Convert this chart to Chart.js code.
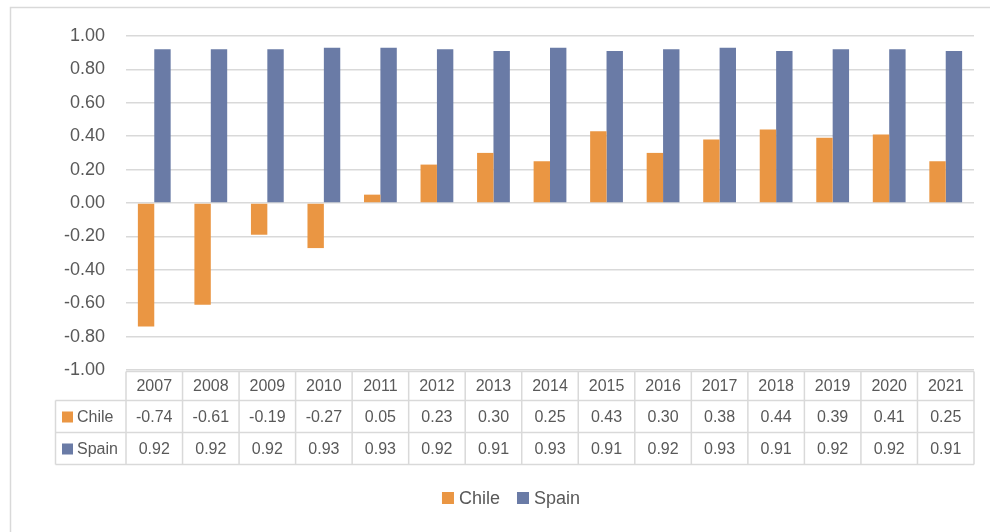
<!DOCTYPE html>
<html><head><meta charset="utf-8">
<script src="https://cdn.jsdelivr.net/npm/chart.js@4.4.1/dist/chart.umd.min.js"></script>
<style>html,body{margin:0;padding:0;background:#fff}#wrap{width:990px;height:532px;position:relative}</style>
</head><body><div id="wrap"><canvas id="c" width="990" height="532"></canvas></div>
<script>
const categories = ['2007','2008','2009','2010','2011','2012','2013','2014','2015','2016','2017','2018','2019','2020','2021'];
const chileValues = [-0.74,-0.61,-0.19,-0.27,0.05,0.23,0.30,0.25,0.43,0.30,0.38,0.44,0.39,0.41,0.25];
const spainValues = [0.92,0.92,0.92,0.93,0.93,0.92,0.91,0.93,0.91,0.92,0.93,0.91,0.92,0.92,0.91];
const seriesNames = ['Chile','Spain'];
const seriesColors = ['#EA9643','#6A7BA6'];

const FONT = "'Liberation Sans', Arial, sans-serif";
const TEXT = '#595959';
const LINE = '#d9d9d9';

const tablePlugin = {
  id: 'dataTable',
  afterDraw(chart) {
    const ctx = chart.ctx, a = chart.chartArea, n = categories.length;
    const w = (a.right - a.left) / n;
    ctx.save();
    // outer frame
    ctx.strokeStyle = LINE; ctx.lineWidth = 1.5;
    ctx.beginPath(); ctx.moveTo(10.5, 532); ctx.lineTo(10.5, 7.5); ctx.lineTo(990, 7.5); ctx.stroke();
    // table grid
    const top = a.bottom + 1.5, r1 = top + 29, r2 = r1 + 32, r3 = r2 + 32, labL = 55.5;
    ctx.lineWidth = 1.5; ctx.strokeStyle = LINE;
    ctx.beginPath();
    ctx.moveTo(a.left, top); ctx.lineTo(a.right, top);
    [r1, r2, r3].forEach(y => { ctx.moveTo(labL, y); ctx.lineTo(a.right, y); });
    ctx.moveTo(labL, r1); ctx.lineTo(labL, r3);
    for (let i = 0; i <= n; i++) { const x = a.left + i * w; ctx.moveTo(x, top); ctx.lineTo(x, r3); }
    ctx.stroke();
    // text
    ctx.font = '16px ' + FONT; ctx.fillStyle = TEXT; ctx.textBaseline = 'middle'; ctx.textAlign = 'center';
    categories.forEach((c, i) => ctx.fillText(c, a.left + (i + 0.5) * w, (top + r1) / 2 + 1));
    const rows = [[r1, r2], [r2, r3]];
    chart.data.datasets.forEach((ds, k) => {
      const cy = (rows[k][0] + rows[k][1]) / 2 + 1;
      ctx.fillStyle = ds.backgroundColor; ctx.fillRect(62, cy - 6, 11, 11);
      ctx.fillStyle = TEXT; ctx.textAlign = 'left'; ctx.fillText(ds.label, 77, cy);
      ctx.textAlign = 'center';
      ds.data.forEach((v, i) => ctx.fillText(v.toFixed(2), a.left + (i + 0.5) * w, cy));
    });
    // legend
    ctx.font = '18px ' + FONT;
    const items = chart.data.datasets.map(ds => ({ label: ds.label, color: ds.backgroundColor, tw: ctx.measureText(ds.label).width }));
    const sw = 12, gap = 5, sp = 17;
    const total = items.reduce((s, it) => s + sw + gap + it.tw, 0) + sp * (items.length - 1);
    let x = 511 - total / 2; const ly = 498;
    ctx.textAlign = 'left';
    items.forEach(it => {
      ctx.fillStyle = it.color; ctx.fillRect(x, ly - 6, sw, sw);
      ctx.fillStyle = TEXT; ctx.fillText(it.label, x + sw + gap, ly + 1);
      x += sw + gap + it.tw + sp;
    });
    ctx.restore();
  }
};

new Chart(document.getElementById('c'), {
  type: 'bar',
  data: {
    labels: categories,
    datasets: [
      { label: seriesNames[0], data: chileValues, backgroundColor: seriesColors[0] },
      { label: seriesNames[1], data: spainValues, backgroundColor: seriesColors[1] }
    ]
  },
  options: {
    responsive: false,
    animation: false,
    devicePixelRatio: 1,
    layout: { padding: { top: 36, bottom: 162, left: 0, right: 16 } },
    datasets: { bar: { categoryPercentage: 0.58, barPercentage: 1.0 } },
    plugins: { legend: { display: false }, tooltip: { enabled: false } },
    scales: {
      x: { display: false },
      y: {
        min: -1, max: 1,
        afterFit(s) { s.width = 126; },
        ticks: { stepSize: 0.2, padding: 21, color: TEXT, font: { family: FONT, size: 18 },
                 callback: v => Number(v).toFixed(2) },
        grid: { color: LINE, lineWidth: 1.5, drawTicks: false },
        border: { display: false }
      }
    }
  },
  plugins: [tablePlugin]
});
</script>
</body></html>
